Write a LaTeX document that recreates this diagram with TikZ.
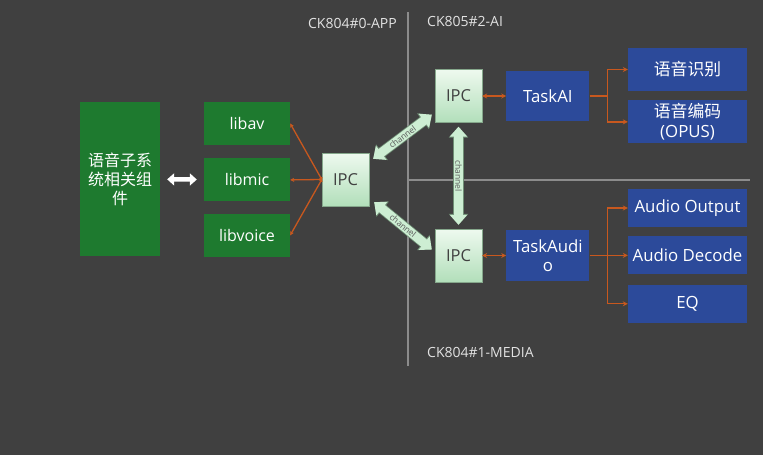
\documentclass[tikz,border=0pt]{standalone}
\usepackage{fontspec}
\setmainfont{Open Sans}
\newfontfamily\cjk{Noto Sans CJK SC}
\usetikzlibrary{positioning,arrows.meta,calc}

\definecolor{bgdark}{HTML}{404040}
\definecolor{modgreen}{HTML}{1E7A2F}
\definecolor{taskblue}{HTML}{2C4A9A}
\definecolor{linkorange}{HTML}{C8581E}
\definecolor{ipctop}{HTML}{EEF9EF}
\definecolor{ipcbot}{HTML}{B2DFBA}
\definecolor{chanfill}{HTML}{CDEED3}
\definecolor{chanedge}{HTML}{6F8F75}
\definecolor{divgray}{HTML}{8C8C8C}
\definecolor{coretext}{HTML}{E2E2E2}

\begin{document}
\begin{tikzpicture}[
    x=1pt, y=-1pt,
    greenbox/.style={fill=modgreen, text=white, align=center, inner sep=2pt, font=\fontsize{16}{19}\selectfont},
    bluebox/.style={fill=taskblue, text=white, align=center, inner sep=2pt, font=\fontsize{16.8}{19.5}\selectfont},
    ipcbox/.style={draw=ipcbot!75!black, top color=ipctop, bottom color=ipcbot, minimum width=47pt, minimum height=53pt, text=black!75, font=\fontsize{16.5}{19}\selectfont},
    core/.style={text=coretext, inner sep=0pt, font=\fontsize{14}{16}\selectfont},
    link/.style={linkorange, line width=1.3pt},
    chan/.style={chanfill, line width=9pt, {Triangle[length=10pt,width=17pt]}-{Triangle[length=10pt,width=17pt]},
        preaction={draw=chanedge, line width=10.6pt, arrows={Triangle[length=11pt,width=19pt]-Triangle[length=11pt,width=19pt]}}},
    chantext/.style={midway, sloped, inner sep=0pt, text=black!65, font=\fontsize{8.5}{9}\selectfont}
]
    \fill[bgdark] (0,0) rectangle (763,455);
    \useasboundingbox (0,0) rectangle (763,455);

    % core dividers
    \draw[divgray, line width=2pt] (408,12) -- (408,366);
    \draw[divgray, line width=2pt] (408,180) -- (750,180);
    \node[core, anchor=east] (appcore) at (397,23) {CK804\#0-APP};
    \node[core, anchor=west] (aicore) at (427,21) {CK805\#2-AI};
    \node[core, anchor=west] (mediacore) at (427,352) {CK804\#1-MEDIA};

    % APP side
    \node[greenbox, minimum width=80pt, minimum height=154pt, text width=66pt] (voicesys) at (120,179) {\cjk 语音子系\\统相关组\\件};
    \node[greenbox, minimum width=86pt, minimum height=43pt] (libav) at (247,123.5) {libav};
    \node[greenbox, minimum width=86pt, minimum height=43pt, below=13pt of libav] (libmic) {libmic};
    \node[greenbox, minimum width=86pt, minimum height=43pt, below=12pt of libmic] (libvoice) {libvoice};
    \node[ipcbox] (ipcapp) at (345.5,179.5) {IPC};

    % AI / MEDIA side
    \node[ipcbox] (ipcai) at (458.5,96) {IPC};
    \node[ipcbox] (ipcmedia) at (458.5,255.5) {IPC};
    \node[bluebox, minimum width=83pt, minimum height=50pt, right=24pt of ipcai] (taskai) {TaskAI};
    \node[bluebox, minimum width=83pt, minimum height=51pt, right=24pt of ipcmedia] (taskaudio) {TaskAudi\\o};
    \node[bluebox, minimum width=119pt, minimum height=43pt] (asr) at (687.5,69.5) {\cjk 语音识别};
    \node[bluebox, minimum width=119pt, minimum height=43pt, below=9pt of asr] (codec) {{\cjk 语音编码}\\(OPUS)};
    \node[bluebox, minimum width=119pt, minimum height=38pt] (aout) at (687.5,208) {Audio Output};
    \node[bluebox, minimum width=119pt, minimum height=38pt, below=9pt of aout] (adec) {Audio Decode};
    \node[bluebox, minimum width=119pt, minimum height=38pt, below=10pt of adec] (eq) {EQ};

    % connectors
    \draw[white, line width=4.5pt, {Triangle[length=7pt,width=12pt]}-{Triangle[length=7pt,width=12pt]}, shorten <=7pt, shorten >=7pt] (voicesys) -- (libmic);
    \foreach \lib in {libav,libmic,libvoice}
        \draw[link, {Circle[length=3pt]}-{Stealth[length=4pt,width=4pt]}] (ipcapp.west) -- (\lib.east);
    \draw[link, {Stealth[length=5pt,width=5pt]}-{Stealth[length=5pt,width=5pt]}] (ipcai) -- (taskai);
    \draw[link, {Stealth[length=5pt,width=5pt]}-{Stealth[length=5pt,width=5pt]}] (ipcmedia) -- (taskaudio);
    \draw[link, -{Stealth[length=5pt,width=5pt]}] (taskai.east) -- ++(18,0) coordinate (aibranch) |- (asr.west);
    \draw[link, -{Stealth[length=5pt,width=5pt]}] (aibranch) |- (codec.west);
    \draw[link, -{Stealth[length=5pt,width=5pt]}] (taskaudio.east) -- ++(18,0) coordinate (audiobranch) |- (aout.west);
    \draw[link, -{Stealth[length=5pt,width=5pt]}] (audiobranch) |- (adec.west);
    \draw[link, -{Stealth[length=5pt,width=5pt]}] (audiobranch) |- (eq.west);

    % channels
    \draw[chan] ($(ipcapp.north east)+(4,6)$) -- ($(ipcai.south west)+(-3,-8)$) node[chantext] {channel};
    \draw[chan] ($(ipcapp.south east)+(5,-4)$) -- ($(ipcmedia.west)+(-3,-6)$) node[chantext] {channel};
    \draw[chan, shorten <=4pt, shorten >=4pt] (ipcai) -- (ipcmedia) node[chantext] {channel};
\end{tikzpicture}
\end{document}
